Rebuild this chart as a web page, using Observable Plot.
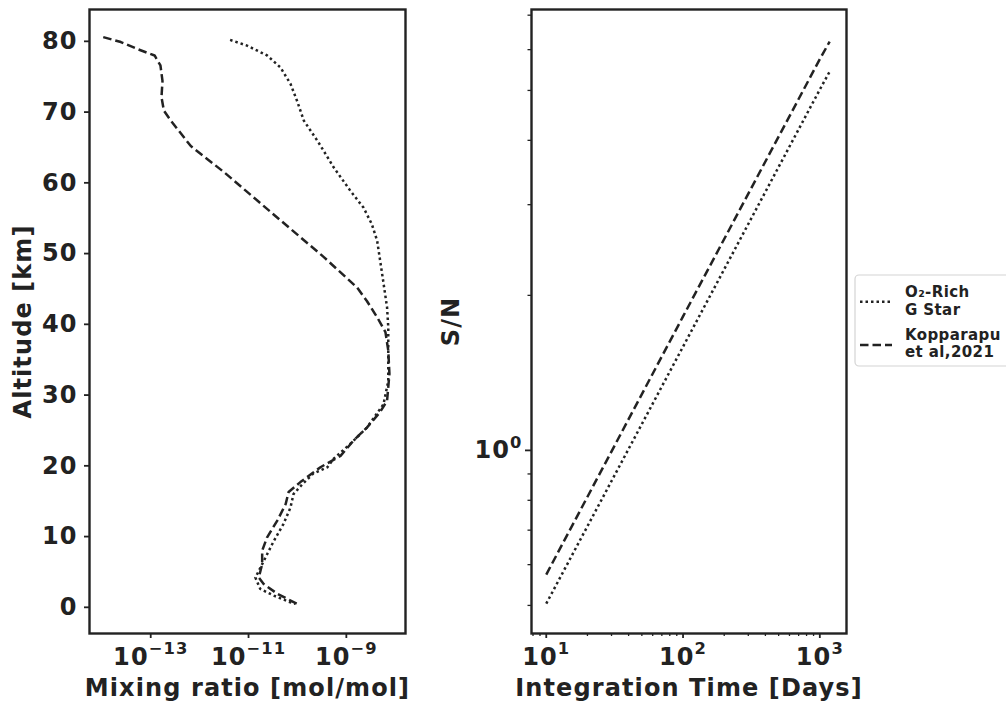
<!DOCTYPE html>
<html>
<head>
<meta charset="utf-8">
<script src="https://cdn.jsdelivr.net/npm/d3@7"></script>
<script src="https://cdn.jsdelivr.net/npm/@observablehq/plot@0.6"></script>
<style>
  html, body { margin: 0; padding: 0; background: #fff; }
  #fig { position: relative; width: 1006px; height: 704px; background: #fff; overflow: hidden; }
  #fig > * { position: absolute; top: 0; }
</style>
</head>
<body>
<div id="fig"></div>
<script>
// ---------- Data: left panel (altitude profiles) ----------
const dashedAltitude = [80.6, 79.9, 78.9, 78.0, 76.6, 74.4, 72.1, 70.2, 68.8, 65.2, 61.5, 57.5, 53.5, 49.5, 45.2, 43.3, 41.0, 38.9, 36.3, 33.0, 29.2, 27.6, 25.4, 23.6, 21.4, 19.8, 17.7, 16.3, 14.6, 12.3, 9.9, 8.0, 6.1, 4.2, 3.3, 1.9, 0.5];
const dashedMixing = [1.07e-14, 2.45e-14, 5.4e-14, 1.2e-13, 1.58e-13, 1.74e-13, 1.66e-13, 1.86e-13, 2.57e-13, 6.6e-13, 3.16e-12, 1.51e-11, 7.2e-11, 3.47e-10, 1.66e-9, 2.63e-9, 4.27e-9, 6.3e-9, 7.2e-9, 7.6e-9, 6.8e-9, 4.9e-9, 2.63e-9, 1.41e-9, 7.6e-10, 2.95e-10, 1.15e-10, 6.6e-11, 5.75e-11, 3.9e-11, 2.4e-11, 1.9e-11, 1.9e-11, 1.62e-11, 2.04e-11, 3.9e-11, 9.8e-11];
const dottedAltitude = [80.2, 79.4, 78.0, 76.3, 74.0, 71.6, 68.8, 65.7, 62.2, 58.9, 56.5, 54.2, 51.8, 47.1, 42.4, 39.6, 35.3, 32.0, 28.7, 25.4, 23.1, 21.0, 19.8, 18.9, 17.4, 16.0, 14.1, 11.8, 9.4, 7.5, 6.1, 4.2, 2.6, 1.65, 0.7, 0.5];
const dottedMixing = [4.2e-12, 9.3e-12, 2.4e-11, 4.5e-11, 7.2e-11, 9.8e-11, 1.35e-10, 2.7e-10, 5.5e-10, 1.2e-9, 2.24e-9, 3.3e-9, 4.27e-9, 5.4e-9, 6.8e-9, 7.2e-9, 7.2e-9, 7.2e-9, 5.75e-9, 2.63e-9, 1.2e-9, 5.5e-10, 4.1e-10, 2.1e-10, 1.26e-10, 8.3e-11, 7.2e-11, 5.2e-11, 3.3e-11, 2.4e-11, 1.9e-11, 1.38e-11, 1.74e-11, 3.3e-11, 7.2e-11, 9.1e-11];

// ---------- Data: right panel (S/N vs integration time) ----------
const integrationDays = [10, 100, 1000, 1180];
const snDotted = [0.504, 1.59, 5.02, 5.44];
const snDashed = [0.574, 1.82, 5.75, 6.22];

// ---------- Ticks ----------
const mixTicks = [1e-13, 1e-11, 1e-9];
const mixTickLabels = ["10^−13", "10^−11", "10^−9"];
const altTicks = [0, 10, 20, 30, 40, 50, 60, 70, 80];
const dayTicks = [10, 100, 1000];
const dayTickLabels = ["10^1", "10^2", "10^3"];
const dayMinorTicks = [8, 9, 20, 30, 40, 50, 60, 70, 80, 90, 200, 300, 400, 500, 600, 700, 800, 900];
const snTicks = [1];
const snTickLabels = ["10^0"];
const snMinorTicks = [0.5, 0.6, 0.7, 0.8, 0.9, 2, 3, 4, 5, 6, 7];

// ---------- Labels ----------
const seriesNames = [["O₂-Rich", "G Star"], ["Kopparapu", "et al,2021"]];
const xLabelLeft = "Mixing ratio [mol/mol]";
const yLabelLeft = "Altitude [km]";
const xLabelRight = "Integration Time [Days]";
const yLabelRight = "S/N";

const ink = "#222";
const FS = 24;
const LW = 2.5;
const dotDash = "2.5,3";
const dashDash = "8.5,4";
const baseStyle = {fontFamily: "'DejaVu Sans', sans-serif", fontWeight: "bold", fontSize: FS + "px",
  color: ink, background: "transparent", overflow: "visible", letterSpacing: "1.1px"};

const dottedRows = dottedAltitude.map((a, i) => ({alt: a, mix: dottedMixing[i]}));
const dashedRows = dashedAltitude.map((a, i) => ({alt: a, mix: dashedMixing[i]}));
const snRowsDotted = integrationDays.map((t, i) => ({t, sn: snDotted[i]}));
const snRowsDashed = integrationDays.map((t, i) => ({t, sn: snDashed[i]}));

const labelOpts = {text: d => d, fontSize: FS, fontWeight: "bold", fill: ink, lineAnchor: "middle", textAnchor: "middle"};

const left = Plot.plot({
  width: 420, height: 704,
  marginLeft: 89, marginRight: 15, marginTop: 9, marginBottom: 71,
  x: {type: "log", domain: [5.6e-15, 1.62e-8]},
  y: {domain: [-3.7, 84.5]},
  style: baseStyle,
  marks: [
    Plot.line(dottedRows, {x: "mix", y: "alt", stroke: ink, strokeWidth: LW, strokeDasharray: dotDash, strokeLinecap: "butt"}),
    Plot.line(dashedRows, {x: "mix", y: "alt", stroke: ink, strokeWidth: LW, strokeDasharray: dashDash, strokeLinecap: "butt"}),
    Plot.axisX({ticks: mixTicks, tickFormat: d => mixTickLabels[mixTicks.indexOf(d)], tickSize: 5, tickPadding: 9,
      strokeWidth: 1.8, label: null, fontSize: FS, fontWeight: "bold"}),
    Plot.axisY({ticks: altTicks, tickFormat: d => String(d), tickSize: 5, tickPadding: 7,
      strokeWidth: 1.8, label: null, fontSize: FS, fontWeight: "bold"}),
    Plot.frame({stroke: ink, strokeWidth: 2.4}),
    Plot.text([xLabelLeft], {...labelOpts, frameAnchor: "bottom", dy: 54.6}),
    Plot.text([yLabelLeft], {...labelOpts, frameAnchor: "left", dx: -66, rotate: -90})
  ]
});
left.style.left = "0px";

const right = Plot.plot({
  width: 430, height: 704,
  marginLeft: 111, marginRight: 4, marginTop: 9, marginBottom: 71,
  x: {type: "log", domain: [7.8, 1567]},
  y: {type: "log", domain: [0.441, 7.18]},
  style: baseStyle,
  marks: [
    Plot.line(snRowsDotted, {x: "t", y: "sn", stroke: ink, strokeWidth: LW, strokeDasharray: dotDash, strokeLinecap: "butt"}),
    Plot.line(snRowsDashed, {x: "t", y: "sn", stroke: ink, strokeWidth: LW, strokeDasharray: dashDash, strokeLinecap: "butt"}),
    Plot.axisX({ticks: dayMinorTicks, tickFormat: () => "", tickSize: 3, strokeWidth: 1.3, label: null}),
    Plot.axisY({ticks: snMinorTicks, tickFormat: () => "", tickSize: 3.5, strokeWidth: 1.3, label: null}),
    Plot.axisX({ticks: dayTicks, tickFormat: d => dayTickLabels[dayTicks.indexOf(d)], tickSize: 5, tickPadding: 9,
      strokeWidth: 1.8, label: null, fontSize: FS, fontWeight: "bold"}),
    Plot.axisY({ticks: snTicks, tickFormat: d => snTickLabels[snTicks.indexOf(d)], tickSize: 6, tickPadding: 3,
      strokeWidth: 1.8, label: null, fontSize: FS, fontWeight: "bold"}),
    Plot.frame({stroke: ink, strokeWidth: 2.4}),
    Plot.text([xLabelRight], {...labelOpts, frameAnchor: "bottom", dy: 54.6}),
    Plot.text([yLabelRight], {...labelOpts, frameAnchor: "left", dx: -80, rotate: -90})
  ]
});
right.style.left = "420px";

// Render "10^n" tick labels with a raised, smaller exponent (like mathtext)
function superscriptify(svg) {
  d3.select(svg).selectAll("text").each(function() {
    const t = this.textContent;
    const m = /^(\d+)\^(.+)$/.exec(t);
    if (!m) return;
    this.textContent = m[1];
    d3.select(this).append("tspan").attr("font-size", "0.68em").attr("dy", "-0.62em").text(m[2]);
  });
}
superscriptify(left);
superscriptify(right);

// ---------- Legend ----------
const legend = d3.create("svg").attr("width", 166).attr("height", 120)
  .style("left", "840px").style("top", "260px").style("overflow", "visible")
  .style("font-family", "'DejaVu Sans', sans-serif").style("font-weight", "bold")
  .style("font-size", "15px").style("letter-spacing", "0.4px");
legend.append("rect").attr("x", 15).attr("y", 15).attr("width", 165).attr("height", 91).attr("rx", 4)
  .attr("fill", "#fff").attr("stroke", "#d4d4d4").attr("stroke-width", 1.2);
const entries = [{dash: dotDash, lineY: 41.7, base: [37, 55]}, {dash: dashDash, lineY: 85, base: [80, 96.7]}];
entries.forEach((e, i) => {
  legend.append("line").attr("x1", 20).attr("x2", 52).attr("y1", e.lineY).attr("y2", e.lineY)
    .attr("stroke", ink).attr("stroke-width", LW).attr("stroke-dasharray", e.dash);
  seriesNames[i].forEach((txt, j) => {
    legend.append("text").attr("x", 65).attr("y", e.base[j]).attr("fill", ink).text(txt);
  });
});

const fig = document.getElementById("fig");
fig.append(left, right, legend.node());
</script>
</body>
</html>
